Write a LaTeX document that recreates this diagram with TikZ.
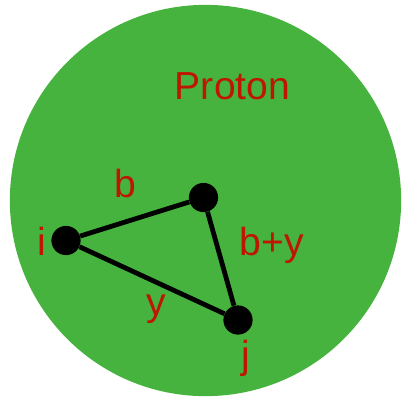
\documentclass[tikz,border=0pt]{standalone}
\usepackage{fontspec}
\setmainfont{Liberation Sans}
\usepackage{xcolor}
\usepackage{tikz}
\definecolor{protongreen}{RGB}{70,179,62}
\definecolor{labelred}{RGB}{190,22,0}

\begin{document}
\begin{tikzpicture}[x=0.025cm,y=-0.025cm,
        parton/.style={circle,fill=black,inner sep=0pt,minimum size=0.73cm},
        lbl/.style={text=labelred,anchor=base,inner sep=0pt,font=\fontsize{27.8}{33}\selectfont}]
        \useasboundingbox (0,0) rectangle (402,397);
        \fill[protongreen] (205.5,200.5) circle (4.89cm);
        \node[lbl] (proton) at (232.5,99) {Proton};
        % partons
        \node[parton] (i) at (66,240.5) {};
        \node[parton] (k) at (203.5,197.5) {};
        \node[parton] (j) at (238,320) {};
        \draw[line width=3.4pt] (i) -- (k) -- (j) -- (i);
        \node[lbl] (li) at (42,255) {i};
        \node[lbl] (lj) at (246,368) {j};
        \node[lbl] (lb) at (125.5,197) {b};
        \node[lbl] (lby) at (272,255) {b+y};
        \node[lbl] (ly) at (156,315) {y};
    \end{tikzpicture}
\end{document}
